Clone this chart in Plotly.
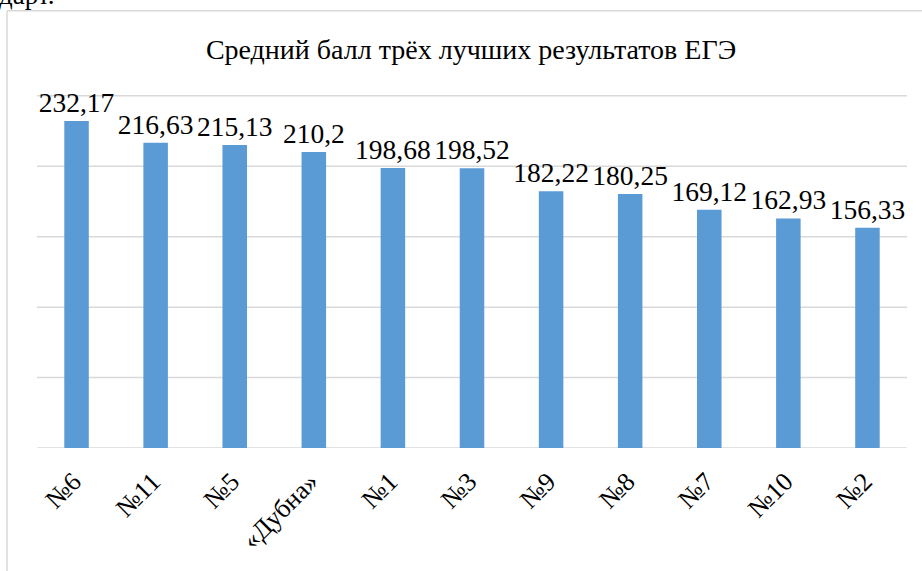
import plotly.graph_objects as go

categories = ["№6", "№11", "№5", "«Дубна»", "№1", "№3", "№9", "№8", "№7", "№10", "№2"]
values = [232.17, 216.63, 215.13, 210.2, 198.68, 198.52, 182.22, 180.25, 169.12, 162.93, 156.33]
value_labels = [("%g" % v).replace(".", ",") for v in values]
title_text = "Средний балл трёх лучших результатов ЕГЭ"
y_ticks = [0, 50, 100, 150, 200, 250]
y_max = 252

FONT = "Liberation Serif"
W, H = 922, 571
L, R, B = 37, 15, 123.3
ph = (H - B - 96) * y_max / 250
T = H - B - ph
pw = W - L - R

def px_x(p):
    return (p - L) / pw

def px_y(p):
    return (H - B - p) / ph

GRID = "#d9d9d9"

fig = go.Figure(go.Bar(
    x=categories, y=values, text=value_labels, textposition="outside",
    constraintext="none",
    textfont=dict(family=FONT, size=27.5, color="#000000"),
    marker=dict(color="#5B9BD5", line=dict(width=0)),
    cliponaxis=False, hoverinfo="skip",
))

grid_shapes = [
    dict(type="line", xref="paper", yref="y", x0=0, x1=1, y0=v, y1=v, layer="below",
         line=dict(color=GRID, width=1.5))
    for v in y_ticks
]

fig.update_layout(
    width=W, height=H,
    margin=dict(l=L, r=R, t=T, b=B, autoexpand=False),
    paper_bgcolor="white", plot_bgcolor="white",
    showlegend=False,
    bargap=0.69,
    font=dict(family=FONT, color="#000000"),
    title=dict(text=title_text, x=471 / W, xref="container", xanchor="center",
               y=1 - 49 / H, yref="container", yanchor="middle",
               font=dict(family=FONT, size=28, color="#000000")),
    xaxis=dict(tickangle=-45, tickfont=dict(family=FONT, size=26, color="#000000"),
               ticklabelstandoff=12, ticklabelshift=-3,
               showline=False, showgrid=False, ticks="", zeroline=False, automargin=False),
    yaxis=dict(range=[0, y_max], tickvals=y_ticks, showticklabels=False, automargin=False,
               showgrid=False, zeroline=False, showline=False),
    shapes=grid_shapes + [
        dict(type="line", xref="paper", yref="paper", x0=px_x(7), x1=px_x(7),
             y0=px_y(11), y1=px_y(H + 5), line=dict(color=GRID, width=1.5)),
        dict(type="line", xref="paper", yref="paper", x0=px_x(7), x1=px_x(W + 5),
             y0=px_y(11), y1=px_y(11), line=dict(color=GRID, width=1.5)),
    ],
    annotations=[
        dict(text="дарт.", xref="paper", yref="paper", x=px_x(56), y=px_y(12),
             xanchor="right", yanchor="bottom", showarrow=False,
             font=dict(family=FONT, size=27, color="#000000")),
    ],
)

fig.write_html("out.html", config={"displayModeBar": False},
               post_script="document.body.style.margin='0';document.body.style.padding='0';")
